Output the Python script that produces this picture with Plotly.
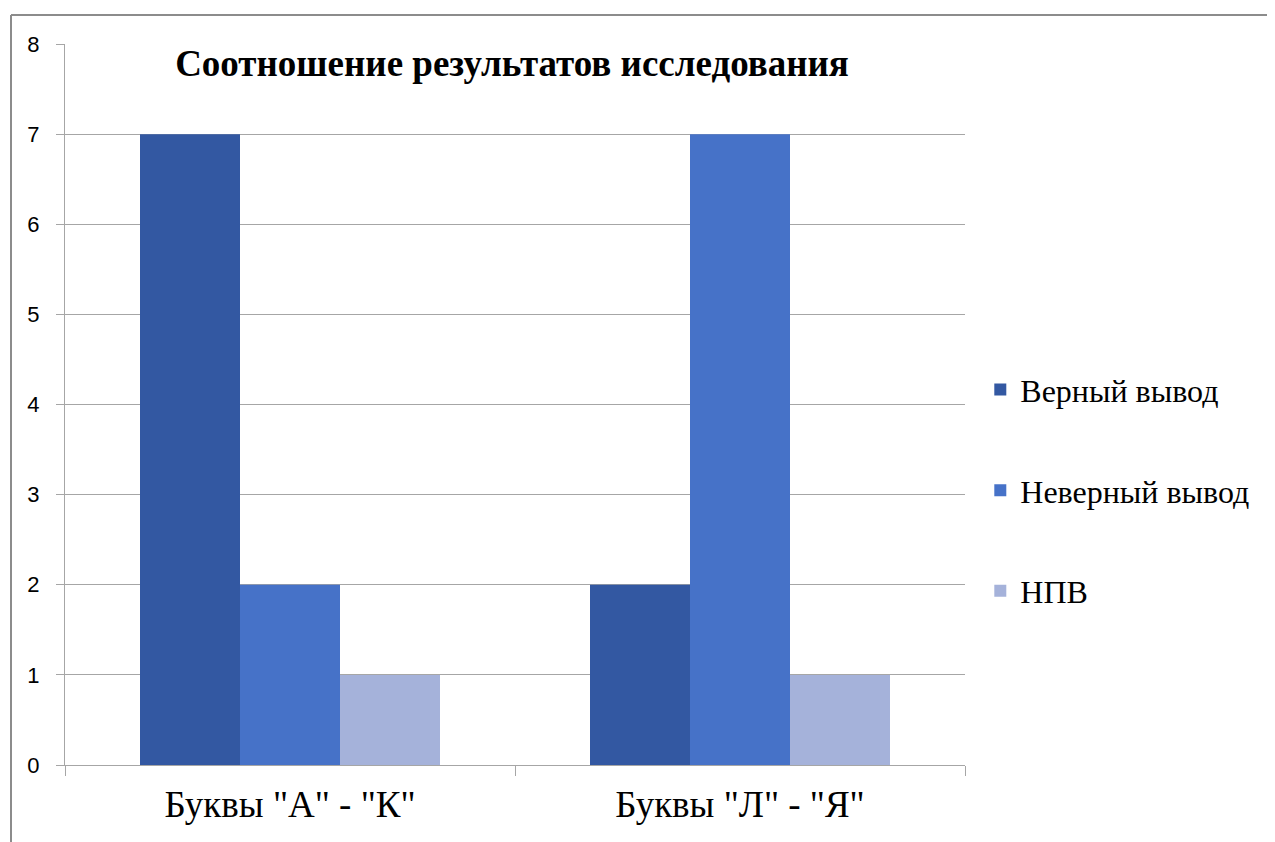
import plotly.graph_objects as go

categories = ['Буквы "А" - "К"', 'Буквы "Л" - "Я"']
series_names = ["Верный вывод", "Неверный вывод", "НПВ"]
verny = [7, 2]
neverny = [2, 7]
npv = [1, 1]
colors = ["#3358A2", "#4672C8", "#A5B2DA"]
y_ticks = [0, 1, 2, 3, 4, 5, 6, 7, 8]
title_text = "Соотношение результатов исследования"

fig = go.Figure()
for name, vals, col in zip(series_names, [verny, neverny, npv], colors):
    fig.add_trace(go.Bar(x=categories, y=vals, name=name, marker=dict(color=col, line=dict(width=0)),
                         legendgroup=name))

W, H = 1267, 834
OFF = 8
fig.update_layout(
    width=W, height=H,
    paper_bgcolor="white", plot_bgcolor="white",
    margin=dict(l=57, r=310, t=36, b=77, autoexpand=False),
    barmode="group", bargap=1/3, bargroupgap=0,
    showlegend=True,
    legend=dict(x=1.017, y=0.381, xanchor="left", yanchor="middle",
                font=dict(family="Liberation Serif", size=32, color="#000"),
                tracegroupgap=56, bgcolor="rgba(0,0,0,0)", itemwidth=30),
    title=dict(text="<b>" + title_text + "</b>", x=(512 - OFF) / W, xref="container", xanchor="center",
               y=1 - (63 - OFF) / H, yref="container", yanchor="middle",
               font=dict(family="Liberation Serif", size=37, color="#000")),
    shapes=[
        dict(type="line", xref="paper", yref="paper", x0=-54/900, x1=1.5, y0=1 + 29/721, y1=1 + 29/721,
             line=dict(color="#8C8C8C", width=2)),
        dict(type="line", xref="paper", yref="paper", x0=-54/900, x1=-54/900, y0=-0.2, y1=1 + 29/721,
             line=dict(color="#8C8C8C", width=2)),
    ],
)
fig.update_yaxes(range=[0, 8], tickvals=y_ticks, showgrid=True, gridcolor="#A6A6A6", gridwidth=1.3,
                 showline=True, linecolor="#A6A6A6", linewidth=1.3, ticks="outside", ticklen=8,
                 tickcolor="#A6A6A6", tickwidth=1.3, ticklabelstandoff=12,
                 tickfont=dict(family="Liberation Sans", size=22, color="#000"), zeroline=False)
fig.update_xaxes(showline=True, linecolor="#A6A6A6", linewidth=1.3, ticks="outside", ticklen=10,
                 tickson="boundaries", tickcolor="#A6A6A6", tickwidth=1.3, ticklabelstandoff=6,
                 tickfont=dict(family="Liberation Serif", size=37, color="#000"))

fig.write_html("out.html")
